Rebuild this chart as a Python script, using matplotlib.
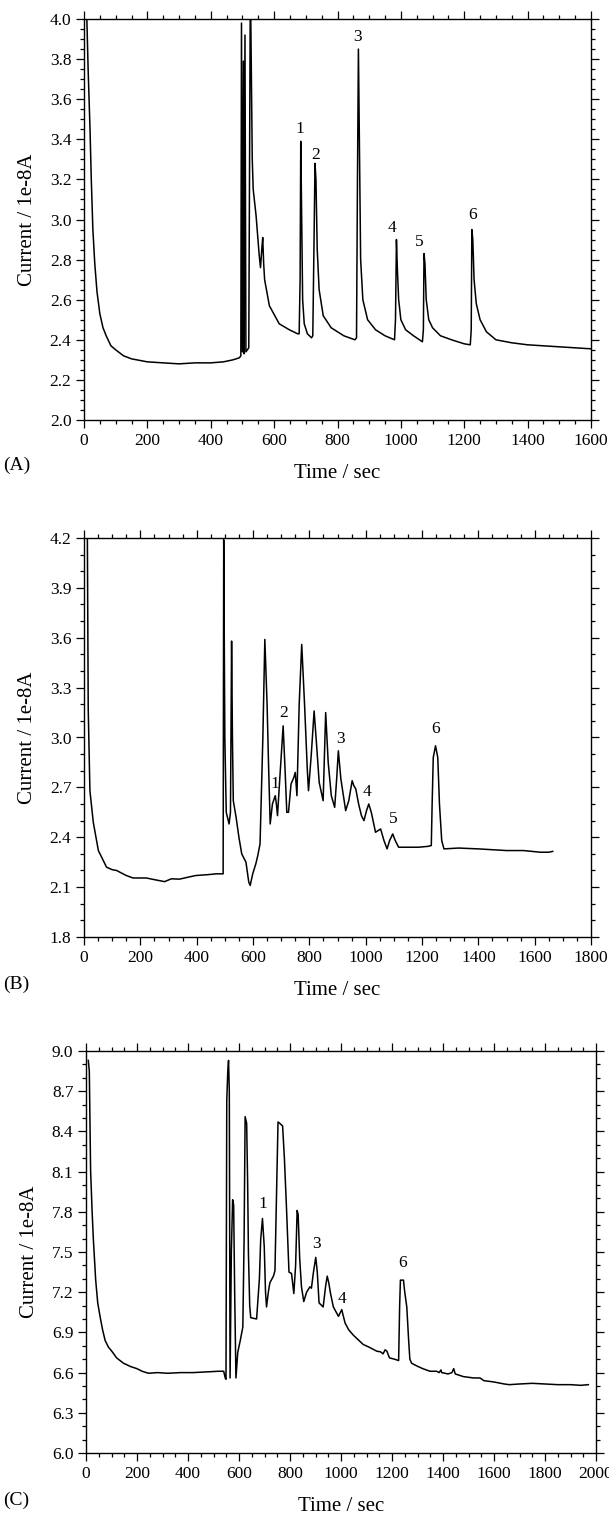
import numpy as np
import matplotlib.pyplot as plt
from matplotlib.ticker import MultipleLocator, FormatStrFormatter

plt.rcParams['font.family'] = ['Liberation Serif', 'DejaVu Serif']

# --- panel A
a_time = [6, 9, 13, 16, 19, 23, 28, 34, 41, 50, 60, 70, 85, 100, 125, 150, 200, 250, 300, 350, 400,
          440, 470, 490, 495, 497, 500, 503, 505, 508, 511, 520, 525, 529, 531, 534, 543, 553, 557,
          561, 564, 567, 570, 585, 616, 648, 674, 679, 682, 684, 687, 690, 695, 705, 718, 722, 726,
          729, 732, 736, 742, 755, 780, 820, 855, 860, 863, 866, 869, 873, 880, 895, 920, 950, 980,
          983, 986, 989, 993, 1000, 1015, 1040, 1068, 1071, 1073, 1076, 1080, 1088, 1100, 1125, 1160,
          1200, 1219, 1222, 1224, 1227, 1231, 1238, 1250, 1270, 1300, 1350, 1400, 1450, 1500, 1550, 1600]
a_current = [4.3, 4.0, 3.75, 3.6, 3.45, 3.2, 2.95, 2.78, 2.64, 2.53, 2.46, 2.42, 2.37, 2.35, 2.32, 2.305, 2.29, 2.285, 2.28, 2.285, 2.285,
             2.29, 2.3, 2.31, 2.32, 3.98, 2.34, 3.79, 2.33, 3.92, 2.34, 2.36, 4.2, 3.6, 3.3, 3.15, 3.02, 2.82, 2.76,
             2.85, 2.91, 2.78, 2.70, 2.57, 2.48, 2.45, 2.43, 2.43, 2.7, 3.39, 3.0, 2.6, 2.48, 2.43, 2.41, 2.42, 2.9,
             3.28, 3.2, 2.85, 2.65, 2.52, 2.46, 2.42, 2.40, 2.41, 3.2, 3.85, 3.4, 2.8, 2.6, 2.5, 2.45, 2.42, 2.40,
             2.50, 2.90, 2.75, 2.6, 2.5, 2.45, 2.42, 2.39, 2.45, 2.83, 2.78, 2.6, 2.5, 2.46, 2.42, 2.40,
             2.38, 2.375, 2.45, 2.95, 2.9, 2.7, 2.58, 2.5, 2.44, 2.40, 2.385, 2.375, 2.37, 2.365, 2.36, 2.355]
a_peaks = ['1', '2', '3', '4', '5', '6']
a_peak_t = [681, 732, 862, 972, 1058, 1226]
a_peak_v = [3.45, 3.32, 3.91, 2.96, 2.89, 3.02]

# --- panel B
b_time = [10, 12, 15, 21, 33, 51, 80, 100, 116, 127, 150, 174, 221, 250, 286, 310, 339, 370, 398, 440,
          470, 494, 496, 500, 505, 515, 520, 524, 527, 530, 540, 550, 560, 575, 585, 590, 599, 610,
          617, 625, 635, 642, 650, 655, 661, 669, 679, 683, 687, 695, 707, 714, 720, 726, 735, 745,
          750, 756, 764, 773, 783, 793, 797, 807, 817, 826, 835, 849, 858, 867, 878, 890, 897, 903,
          912, 929, 940, 952, 958, 965, 975, 985, 994, 1003, 1011, 1020, 1035, 1053, 1065, 1076, 1085,
          1096, 1105, 1117, 1150, 1188, 1220, 1233, 1236, 1240, 1248, 1256, 1262, 1270, 1278, 1330,
          1400, 1450, 1500, 1560, 1620, 1650, 1664]
b_current = [4.3, 4.2, 3.17, 2.68, 2.49, 2.32, 2.22, 2.205, 2.20, 2.19, 2.17, 2.155, 2.155, 2.145, 2.133, 2.15, 2.148, 2.16, 2.17, 2.175,
             2.18, 2.18, 4.19, 3.0, 2.55, 2.48, 2.55, 3.58, 3.0, 2.62, 2.52, 2.40, 2.30, 2.25, 2.13, 2.11, 2.18, 2.24,
             2.29, 2.36, 3.0, 3.59, 3.2, 2.85, 2.48, 2.60, 2.65, 2.60, 2.53, 2.75, 3.07, 2.8, 2.55, 2.55, 2.72, 2.76,
             2.79, 2.65, 3.2, 3.56, 3.2, 2.8, 2.68, 2.9, 3.16, 2.95, 2.73, 2.62, 3.15, 2.85, 2.65, 2.58, 2.75, 2.92,
             2.75, 2.56, 2.62, 2.74, 2.71, 2.69, 2.6, 2.53, 2.50, 2.56, 2.60, 2.55, 2.43, 2.45, 2.38, 2.33, 2.38,
             2.42, 2.38, 2.34, 2.34, 2.34, 2.345, 2.35, 2.6, 2.88, 2.95, 2.88, 2.6, 2.38, 2.33, 2.335,
             2.33, 2.325, 2.32, 2.32, 2.31, 2.31, 2.315]
b_peaks = ['1', '2', '3', '4', '5', '6']
b_peak_t = [676, 708, 911, 1005, 1097, 1248]
b_peak_v = [2.72, 3.15, 2.99, 2.67, 2.51, 3.05]

# --- panel C
c_time = [9, 13, 18, 24, 29, 38, 46, 55, 65, 75, 88, 101, 120, 147, 175, 199, 220, 245, 280, 320,
          370, 420, 470, 520, 540, 546, 549, 552, 556, 559, 562, 565, 570, 575, 579, 583, 588, 595,
          605, 615, 620, 624, 630, 634, 637, 642, 646, 669, 680, 685, 692, 699, 704, 708, 715, 721,
          735, 741, 748, 753, 760, 771, 778, 786, 796, 806, 815, 822, 828, 832, 838, 845, 854, 865,
          878, 884, 892, 901, 907, 914, 930, 940, 946, 952, 959, 970, 990, 1003, 1008, 1016, 1030,
          1048, 1070, 1087, 1110, 1140, 1155, 1165, 1173, 1180, 1190, 1210, 1226, 1230, 1233, 1245,
          1250, 1258, 1265, 1270, 1277, 1297, 1320, 1349, 1375, 1385, 1392, 1395, 1420, 1435, 1442,
          1448, 1480, 1520, 1545, 1560, 1600, 1640, 1660, 1700, 1750, 1800, 1850, 1900, 1940, 1970]
c_current = [8.93, 8.85, 8.11, 7.8, 7.59, 7.29, 7.12, 7.02, 6.92, 6.84, 6.79, 6.76, 6.71, 6.67, 6.645, 6.63, 6.61, 6.595, 6.6, 6.595,
             6.6, 6.6, 6.605, 6.61, 6.61, 6.56, 6.55, 8.63, 8.85, 8.93, 8.7, 6.56, 7.5, 7.89, 7.85, 7.2, 6.56, 6.75,
             6.84, 6.94, 7.6, 8.51, 8.46, 8.0, 7.49, 7.1, 7.01, 7.0, 7.3, 7.59, 7.75, 7.54, 7.2, 7.09, 7.2, 7.27,
             7.32, 7.36, 8.0, 8.47, 8.46, 8.44, 8.2, 7.84, 7.35, 7.34, 7.19, 7.4, 7.81, 7.78, 7.45, 7.24, 7.13, 7.2,
             7.24, 7.23, 7.35, 7.46, 7.35, 7.12, 7.09, 7.25, 7.32, 7.27, 7.19, 7.09, 7.02, 7.07, 7.03, 6.97, 6.92,
             6.88, 6.84, 6.81, 6.79, 6.76, 6.755, 6.74, 6.77, 6.76, 6.71, 6.70, 6.69, 7.1, 7.29, 7.29,
             7.2, 7.09, 6.85, 6.7, 6.67, 6.65, 6.63, 6.61, 6.61, 6.6, 6.62, 6.6, 6.59, 6.60, 6.63,
             6.59, 6.57, 6.56, 6.56, 6.54, 6.53, 6.515, 6.51, 6.515, 6.52, 6.515, 6.51, 6.51, 6.505, 6.51]
c_peaks = ['1', '3', '4', '6']
c_peak_t = [693, 904, 1005, 1242]
c_peak_v = [7.86, 7.56, 7.15, 7.42]

W, H = 609, 1520
fig = plt.figure(figsize=(W / 100, H / 100), dpi=100)

panels = [
    # (time, current, labels, lt, lv, [left, right, top, bottom px], xmax, ylim, ystep, yminor, tag, tag_y)
    (a_time, a_current, a_peaks, a_peak_t, a_peak_v, [84, 591, 19, 420], 1600, (2.0, 4.0), 0.2, 0.05, '(A)', 465),
    (b_time, b_current, b_peaks, b_peak_t, b_peak_v, [84, 591, 538, 937], 1800, (1.8, 4.2), 0.3, 0.1, '(B)', 984),
    (c_time, c_current, c_peaks, c_peak_t, c_peak_v, [86, 596, 1051, 1453], 2000, (6.0, 9.0), 0.3, 0.1, '(C)', 1500),
]

for t, v, labs, lt, lv, box, xmax, ylim, ystep, yminor, tag, tag_y in panels:
    l, r, top, bot = box
    ax = fig.add_axes([l / W, 1 - bot / H, (r - l) / W, (bot - top) / H])
    ax.plot(t, v, color='black', lw=1.1)
    for s, x, y in zip(labs, lt, lv):
        ax.text(x, y, s, ha='center', va='center', fontsize=12.5)
    ax.set_xlim(0, xmax)
    ax.set_ylim(*ylim)
    ax.xaxis.set_major_locator(MultipleLocator(200))
    ax.xaxis.set_minor_locator(MultipleLocator(50))
    ax.yaxis.set_major_locator(MultipleLocator(ystep))
    ax.yaxis.set_minor_locator(MultipleLocator(yminor))
    ax.yaxis.set_major_formatter(FormatStrFormatter('%.1f'))
    ax.tick_params(which='both', direction='out', top=True, right=True, labelsize=12.5, width=0.9)
    ax.tick_params(which='major', length=6, pad=3)
    ax.tick_params(which='minor', length=3)
    for sp in ax.spines.values():
        sp.set_linewidth(1.0)
    ax.set_xlabel('Time / sec', fontsize=15, labelpad=11)
    ax.set_ylabel('Current / 1e-8A', fontsize=15, labelpad=9)
    fig.text(3 / W, 1 - tag_y / H, tag, ha='left', va='center', fontsize=14)

fig.savefig('out.png', dpi=100)
